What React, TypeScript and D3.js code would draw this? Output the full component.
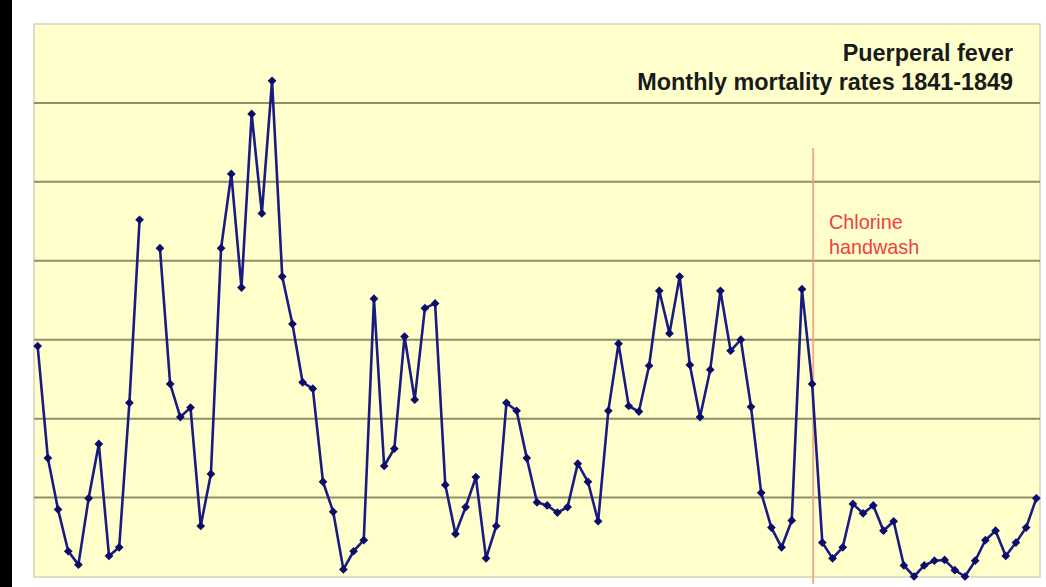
import React from "react";
import * as d3 from "d3";

const years = [1841, 1842, 1843, 1844, 1845, 1846, 1847, 1848, 1849];
const monthNames = ["Jan", "Feb", "Mar", "Apr", "May", "Jun", "Jul", "Aug", "Sep", "Oct", "Nov", "Dec"];
const months: string[] = [];
years.forEach((y) => monthNames.forEach((m) => months.push(`${m} ${y}`)));
const categories = months.slice(0, 99); // Jan 1841 .. Mar 1849

// Monthly mortality rate (%); Dec 1841 missing
const rates: (number | null)[] = [
  14.6, 7.5, 4.25, 1.6, 0.75, 4.95, 8.4, 1.3, 1.85, 11.0, 22.6, null,
  20.8, 12.2, 10.1, 10.7, 3.2, 6.5, 20.8, 25.5, 18.3, 29.3, 23.0, 31.4,
  19.0, 16.0, 12.3, 11.9, 6.0, 4.1, 0.45, 1.6, 2.3, 17.6, 7.0, 8.1,
  15.2, 11.2, 17.0, 17.3, 5.8, 2.7, 4.4, 6.3, 1.15, 3.2, 11.0, 10.5,
  7.5, 4.7, 4.5, 4.05, 4.4, 7.15, 6.0, 3.5, 10.5, 14.75, 10.8, 10.45,
  13.35, 18.1, 15.4, 19.0, 13.4, 10.1, 13.1, 18.1, 14.3, 15.0, 10.75, 5.3,
  3.1, 1.85, 3.55, 18.2, 12.2, 2.15, 1.15, 1.85, 4.6, 4.0, 4.5, 2.9,
  3.5, 0.7, 0, 0.7, 1.0, 1.05, 0.4, 0, 1.0, 2.3, 2.9, 1.3,
  2.15, 3.1, 4.95,
];

const gridValues = [5, 10, 15, 20, 25, 30];
const chlorineMonth = "May 1847";
const titleLines = ["Puerperal fever", "Monthly mortality rates 1841-1849"];
const noteLines = ["Chlorine", "handwash"];

const W = 1046;
const H = 587;
const plot = { left: 34, right: 1040, top: 24, bottom: 577 };

export default function App() {
  const x = d3
    .scalePoint<string>()
    .domain(categories)
    .range([plot.left, plot.right])
    .padding(0.36);
  const y = d3.scaleLinear().domain([0, 35]).range([576.5, plot.top]);

  const pts = categories.map((c, i) => ({ c, v: rates[i] }));
  const line = d3
    .line<{ c: string; v: number | null }>()
    .defined((d) => d.v !== null)
    .x((d) => x(d.c)!)
    .y((d) => y(d.v as number));

  const marker = d3.symbol().type(d3.symbolSquare).size(38)()!;
  const cx = x(chlorineMonth)!;

  return (
    <div style={{ position: "absolute", left: 0, top: 0 }}>
      <svg width={W} height={H} style={{ display: "block" }}>
        <rect x={0} y={0} width={W} height={H} fill="#ffffff" />
        <rect x={0} y={0} width={12} height={H} fill="#000000" />
        <rect
          x={plot.left}
          y={plot.top}
          width={plot.right - plot.left}
          height={plot.bottom - plot.top}
          fill="#ffffcc"
          stroke="#d6d3b8"
          strokeWidth={1.5}
        />
        {gridValues.map((g) => (
          <line
            key={g}
            x1={plot.left}
            x2={plot.right}
            y1={y(g)}
            y2={y(g)}
            stroke="#8f8f6c"
            strokeWidth={2}
          />
        ))}
        <line
          x1={cx + 1}
          x2={cx + 1}
          y1={148}
          y2={584}
          stroke="#f2a080"
          strokeWidth={2}
          strokeOpacity={0.85}
        />
        <path d={line(pts)!} fill="none" stroke="#1a1a82" strokeWidth={2.6} strokeLinejoin="round" />
        {pts
          .filter((d) => d.v !== null)
          .map((d) => (
            <path
              key={d.c}
              d={marker}
              transform={`translate(${x(d.c)},${y(d.v as number)}) rotate(45)`}
              fill="#0c0c6a"
            />
          ))}
        <g
          fontFamily="Liberation Sans, Arial, sans-serif"
          fontWeight="bold"
          fontSize={23.4}
          fill="#1a1a1a"
          textAnchor="end"
        >
          {titleLines.map((t, i) => (
            <text key={t} x={1013} y={61 + i * 28.5}>
              {t}
            </text>
          ))}
        </g>
        <g fontFamily="Liberation Sans, Arial, sans-serif" fontSize={19.8} fill="#ee4040">
          {noteLines.map((t, i) => (
            <text key={t} x={829} y={229 + i * 25}>
              {t}
            </text>
          ))}
        </g>
      </svg>
    </div>
  );
}
